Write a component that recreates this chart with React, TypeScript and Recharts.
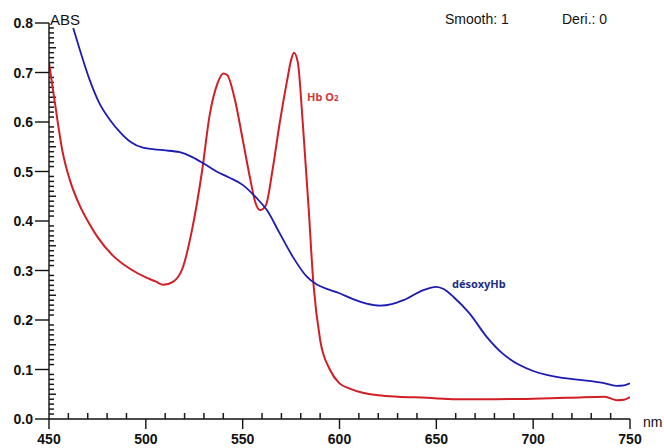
import { LineChart, Line, XAxis, YAxis, ReferenceLine } from 'recharts';

// HbO2 (oxyhemoglobin) spectrum
const hbo2Nm = [450, 453, 457, 461, 466, 470, 475, 483, 492, 500, 505, 509, 514, 519, 524, 529, 533, 537, 540, 542, 546, 550, 554, 556.5, 559, 562, 565.5, 569, 573, 575, 576.5, 578.5, 581, 584, 586.5, 590, 595, 600, 605, 612, 620, 630, 645, 660, 680, 700, 720, 737, 743, 747, 750];
const hbo2Abs = [0.72, 0.64, 0.54, 0.48, 0.43, 0.4, 0.368, 0.33, 0.303, 0.286, 0.278, 0.271, 0.277, 0.305, 0.385, 0.5, 0.615, 0.678, 0.698, 0.695, 0.645, 0.565, 0.483, 0.438, 0.422, 0.432, 0.505, 0.595, 0.685, 0.725, 0.74, 0.72, 0.6, 0.43, 0.275, 0.16, 0.1, 0.072, 0.062, 0.053, 0.048, 0.045, 0.043, 0.04, 0.04, 0.041, 0.043, 0.045, 0.038, 0.039, 0.044];

// deoxyhemoglobin spectrum
const deoxyNm = [462.5, 466, 471, 476, 481.5, 487, 492, 498.5, 509, 517.5, 524, 529.5, 536.5, 543, 550, 557, 562.5, 569, 576, 583, 588.5, 595, 600, 607, 614, 621, 627, 633, 643, 650, 654, 659, 667, 676, 684, 693, 700, 707, 715, 724, 736, 743, 747, 750];
const deoxyAbs = [0.79, 0.745, 0.685, 0.638, 0.604, 0.578, 0.56, 0.548, 0.543, 0.539, 0.529, 0.517, 0.5, 0.488, 0.473, 0.447, 0.422, 0.376, 0.327, 0.288, 0.271, 0.261, 0.254, 0.242, 0.233, 0.229, 0.232, 0.24, 0.26, 0.267, 0.262, 0.246, 0.214, 0.166, 0.133, 0.109, 0.097, 0.089, 0.083, 0.079, 0.073, 0.067, 0.068, 0.072];

const xMajor = [450, 500, 550, 600, 650, 700, 750];
const yMajor = [0, 0.1, 0.2, 0.3, 0.4, 0.5, 0.6, 0.7, 0.8];

// minor ticks: every 10 nm and every 0.01 ABS
const xMinor: number[] = [];
for (let v = 460; v < 750; v += 10) if (v % 50 !== 0) xMinor.push(v);
const yMinor: number[] = [];
for (let i = 1; i < 80; i++) if (i % 10 !== 0) yMinor.push(i / 100);

const hbo2Data = hbo2Nm.map((nm, i) => ({ nm, abs: hbo2Abs[i] }));
const deoxyData = deoxyNm.map((nm, i) => ({ nm, abs: deoxyAbs[i] }));

const FONT = '"Liberation Sans", Arial, sans-serif';

const renderXTick = (props: any) => {
    const { x, y, payload } = props;
    return (
        <g>
            <path d={`M${x},${y}V${y + 10}`} stroke="#111" strokeWidth={1.4} fill="none" />
            <text x={x} y={y + 25} textAnchor="middle" fontFamily={FONT} fontSize={14} fontWeight="bold" fill="#111">{payload.value}</text>
        </g>
    );
};

const renderYTick = (props: any) => {
    const { x, y, payload } = props;
    return (
        <g>
            <path d={`M${x - 14},${y}H${x}`} stroke="#111" strokeWidth={1.4} fill="none" />
            <text x={x - 16} y={y + 5} textAnchor="end" fontFamily={FONT} fontSize={14} fontWeight="bold" fill="#111">{Number(payload.value).toFixed(1)}</text>
        </g>
    );
};

const emptyTick = () => <g />;

export default function App() {
    return (
        <div style={{ position: 'absolute', left: 0, top: 0, width: 664, height: 448, background: '#fff', fontFamily: FONT }}>
            <LineChart width={664} height={448} margin={{ top: 23, right: 34, bottom: 0, left: 0 }}>
                <XAxis
                    xAxisId={0}
                    type="number"
                    dataKey="nm"
                    domain={[450, 750]}
                    ticks={xMajor}
                    interval={0}
                    height={29}
                    tick={renderXTick}
                    tickSize={0}
                    tickMargin={0}
                    tickLine={false}
                    axisLine={{ stroke: '#111', strokeWidth: 1.4 }}
                    allowDataOverflow
                />
                {/* minor x ticks, pointing up into the plot */}
                <XAxis
                    xAxisId="minor"
                    type="number"
                    dataKey="nm"
                    domain={[450, 750]}
                    ticks={xMinor}
                    interval={0}
                    height={10}
                    mirror
                    tick={emptyTick}
                    tickSize={6}
                    tickLine={{ stroke: '#1a1a1a', strokeWidth: 1.5 }}
                    axisLine={false}
                    allowDataOverflow
                />
                <YAxis
                    yAxisId={0}
                    type="number"
                    domain={[0, 0.8]}
                    ticks={yMajor}
                    interval={0}
                    width={49}
                    tick={renderYTick}
                    tickSize={0}
                    tickMargin={0}
                    tickLine={false}
                    axisLine={{ stroke: '#111', strokeWidth: 1.4 }}
                    allowDataOverflow
                />
                {yMinor.map(v => (
                    <ReferenceLine
                        key={`ym${v}`}
                        segment={[{ x: 450, y: v }, { x: Math.round(v * 100) % 5 === 0 ? 453.6 : 452.6, y: v }]}
                        stroke="#1a1a1a"
                        strokeWidth={1.5}
                        ifOverflow="visible"
                    />
                ))}
                <Line data={hbo2Data} dataKey="abs" type="monotone" stroke="#d21f26" strokeWidth={2} dot={false} isAnimationActive={false} />
                <Line data={deoxyData} dataKey="abs" type="monotone" stroke="#1c1cb4" strokeWidth={1.8} dot={false} isAnimationActive={false} />
            </LineChart>
            <div style={{ position: 'absolute', left: 50, top: 11, fontSize: 15, color: '#111' }}>ABS</div>
            <div style={{ position: 'absolute', left: 445, top: 11, fontSize: 14, color: '#111' }}>Smooth: 1</div>
            <div style={{ position: 'absolute', left: 562, top: 11, fontSize: 14, color: '#111' }}>Deri.: 0</div>
            <div style={{ position: 'absolute', left: 643, top: 414, fontSize: 14, color: '#111' }}>nm</div>
            <div style={{ position: 'absolute', left: 307, top: 89, fontSize: 11, fontWeight: 'bold', color: '#d03a3a', fontFamily: '"Noto Sans", sans-serif' }}>
                Hb O<span style={{ fontSize: 8 }}>2</span>
            </div>
            <div style={{ position: 'absolute', left: 452, top: 276, fontSize: 11, fontWeight: 'bold', color: '#252d85', fontFamily: '"Noto Sans", sans-serif' }}>
                désoxyHb
            </div>
        </div>
    );
}
